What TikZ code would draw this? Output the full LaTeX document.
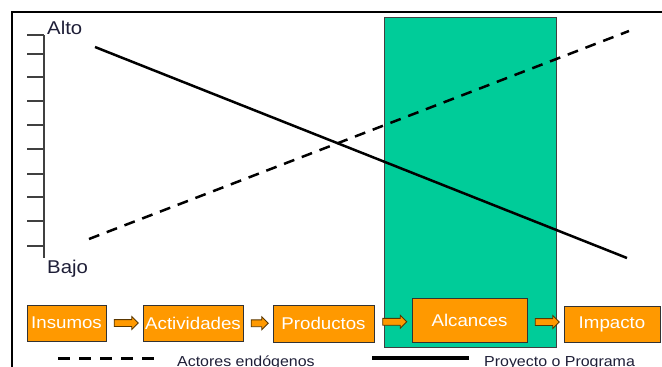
\documentclass[tikz,border=0pt]{standalone}
\usepackage{fontspec}
\setmainfont{Liberation Sans}[FakeStretch=1.1]
\usepackage{tikz}
\usetikzlibrary{positioning,shapes.arrows,calc}
\definecolor{naranja}{RGB}{255,153,0}
\definecolor{verde}{RGB}{0,204,153}
\definecolor{tinta}{RGB}{30,30,55}
\tikzset{
  etapa/.style={draw=black!80,fill=naranja,text=white,inner sep=0pt,minimum height=36pt,font=\fontsize{17}{17}\selectfont},
  flecha/.style={single arrow,draw=black!65!naranja,line width=0.8pt,fill=naranja,inner xsep=0pt,inner ysep=3pt,minimum width=12pt,single arrow head extend=3pt,minimum height=24pt},
  rotulo/.style={inner sep=0pt,anchor=base west,text=tinta},
}
\begin{document}
\begin{tikzpicture}[x=1pt,y=-1pt]
\useasboundingbox (0,0) rectangle (662,367);
\fill[verde,draw=black!75,line width=0.8pt] (384,17) rectangle (556,347);
\draw[line width=2pt] (12,390) -- (12,12) -- (670,12);
\draw[black!75,line width=1.5pt] (44,35) -- (44,258);
\foreach \y in {35,54,77,101,125,149,174,197,221,246}
  \draw[black!75,line width=1.2pt] (27,\y) -- (44,\y);
\node[rotulo,font=\fontsize{18.5}{18.5}\selectfont] (alto) at (47,34) {Alto};
\node[rotulo,font=\fontsize{18.5}{18.5}\selectfont] (bajo) at (47,273) {Bajo};
\coordinate (p1) at (95,47);
\coordinate (p2) at (627,258);
\coordinate (e1) at (89,239);
\coordinate (e2) at (629,31);
\draw[line width=2.5pt] (p1) -- (p2);
\draw[line width=2.5pt,dash pattern=on 11pt off 8pt] (e1) -- (e2);
\node[etapa,minimum width=79pt] (insumos) at (66.5,323) {Insumos};
\node[etapa,minimum width=100pt] (actividades) at (193,323) {Actividades};
\node[etapa,minimum width=101pt,minimum height=37pt] (productos) at (323.5,323.5) {Productos};
\node[etapa,minimum width=115pt,minimum height=44pt] (alcances) at (469.5,320) {Alcances};
\node[etapa,minimum width=96pt] (impacto) at (612,324) {Impacto};
\node[flecha] at ($(insumos.east)!0.5!(actividades.west)$) {};
\node[flecha,minimum height=17pt] at ($(actividades.east)!0.5!(productos.west)$) {};
\node[flecha] at ($(productos.east)!0.5!(alcances.west)$) {};
\node[flecha] at ($(alcances.east)!0.5!(impacto.west)$) {};
\coordinate (l1) at (58,358);
\coordinate (l2) at (160,358);
\coordinate (l3) at (372,358);
\coordinate (l4) at (469,358);
\draw[line width=3pt,dash pattern=on 12pt off 9pt] (l1) -- (l2);
\draw[line width=3.5pt] (l3) -- (l4);
\node[rotulo,font=\fontsize{14.5}{14.5}\selectfont] (endogenos) at (177,366) {Actores endógenos};
\node[rotulo,font=\fontsize{14.5}{14.5}\selectfont] (proyecto) at (484,366) {Proyecto o Programa};
\end{tikzpicture}
\end{document}
